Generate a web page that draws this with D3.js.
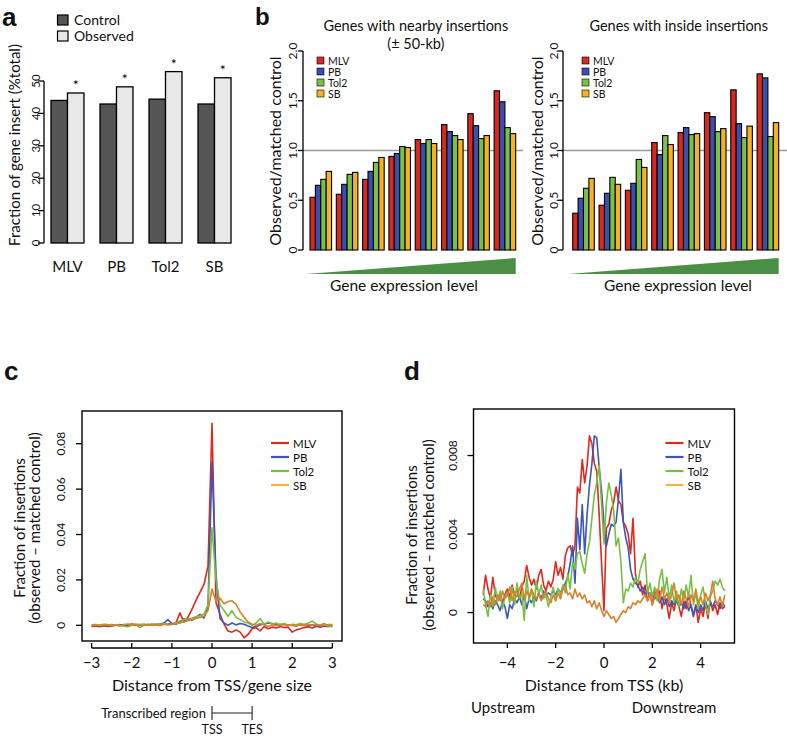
<!DOCTYPE html>
<html><head><meta charset="utf-8">
<script src="https://cdn.jsdelivr.net/npm/d3@7"></script>
<style>body{margin:0;background:#fff}svg{display:block}text{font-family:Lato,"Open Sans",sans-serif;fill:#111}</style>
</head><body>
<script>
// ---------- DATA ----------
// Panel a
const aCategories = ["MLV","PB","Tol2","SB"];
const aControl = [44.0, 42.9, 44.4, 42.9];
const aObserved = [46.3, 48.2, 52.9, 51.0];
const aTicks = [0,10,20,30,40,50];
const aLegend = ["Control","Observed"];
// Panel b
const bSeries = ["MLV","PB","Tol2","SB"];
const bGroups = [1,2,3,4,5,6,7,8];
const nearbyMLV = [0.53,0.56,0.71,0.94,1.11,1.26,1.37,1.60];
const nearbyPB  = [0.65,0.66,0.79,0.97,1.07,1.19,1.25,1.49];
const nearbyTol2= [0.71,0.76,0.88,1.04,1.11,1.15,1.12,1.23];
const nearbySB  = [0.79,0.78,0.93,1.03,1.07,1.11,1.15,1.17];
const insideMLV = [0.37,0.45,0.60,1.08,1.18,1.38,1.61,1.77];
const insidePB  = [0.52,0.57,0.67,0.96,1.23,1.34,1.27,1.73];
const insideTol2= [0.62,0.73,0.91,1.15,1.16,1.19,1.13,1.14];
const insideSB  = [0.72,0.66,0.83,1.06,1.17,1.22,1.245,1.28];
const bTicks = [0,0.5,1,1.5,2];
const bTickLabels = ["0","0.5","1.0","1.5","2.0"];
// Panel c (values x 1e-3)
const cDist = [-3.0,-2.9,-2.8,-2.7,-2.6,-2.5,-2.4,-2.3,-2.2,-2.1,-2.0,-1.9,-1.8,-1.7,-1.6,-1.5,-1.4,-1.3,-1.2,-1.1,-1.0,-0.9,-0.8,-0.7,-0.6,-0.5,-0.4,-0.3,-0.2,-0.1,0,0.1,0.2,0.3,0.4,0.5,0.6,0.7,0.8,0.9,1.0,1.1,1.2,1.3,1.4,1.5,1.6,1.7,1.8,1.9,2.0,2.1,2.2,2.3,2.4,2.5,2.6,2.7,2.8,2.9,3.0];
const cMLV = [-0.5,-0.3,-0.6,-0.2,-0.5,-0.4,0.2,0.0,0.3,0.1, 0.6,0.2,0.4,0.1,0.3,0.2,0.4,0.3,0.5,0.6, 0.8,1.0,5.5,1.5,3.5,7.0,11.0,14.5,18.0,26, 89, 10,5,0.5,-2.5,-3.0,-2.0,-3.0,-5.5,-4.0,-1.5, -1.0,-2.5,-0.5,-1.5,-0.8,-1.2,-0.5,-1.0,-0.8,-3.0, -2.0,-1.5,-1.0,-0.6,-1.2,-0.4,-0.8,-0.3,-0.6,0.3];
const cPB = [-0.3,0.0,-0.4,0.1,-0.2,0.2,0.0,0.3,-0.1,0.2, 0.0,0.3,0.1,0.4,0.2,0.5,0.3,0.6,1.0,2.5, 0.8,0.5,1.5,2.8,2.5,2.2,3.5,4.8,3.2,8.0, 72, 22,3.0,1.0,0.0,1.0,0.2,0.8,0.5,-0.3,-1.0, -0.5,0.3,0.5,1.0,0.8,0.4,0.2,0.5,0.0,0.2, -0.3,0.4,0.0,-0.2,0.2,-0.4,0.0,-0.5,-0.2,-0.6];
const cTol2 = [0.2,0.4,0.1,0.5,0.3,-0.2,0.3,0.0,-0.4,-0.6, 0.0,0.5,0.2,0.6,0.0,0.4,0.2,0.5,0.8,0.5, 0.3,1.0,2.0,2.5,2.8,3.2,3.8,4.2,5.0,9.0, 43, 20,9.0,6.5,4.0,6.5,3.5,2.5,1.5,1.0,0.0, 1.0,3.0,0.5,1.5,0.5,1.0,0.2,0.8,0.0,0.5, 0.2,0.8,0.5,1.0,1.8,0.5,0.2,0.8,-0.4,-0.3];
const cSB = [0.0,0.2,-0.2,0.3,0.1,0.4,0.0,-0.3,0.2,0.6, 0.2,0.3,-1.0,0.0,0.4,0.1,0.3,-0.2,0.5,0.2, 0.6,0.8,1.0,1.5,2.0,2.5,3.0,3.5,4.0,6.5, 16, 10.5,12.0,9.5,10.5,10.8,9.2,6.0,3.5,1.5,0.5, 0.0,0.8,0.3,-0.5,0.2,0.0,0.5,0.3,0.1,0.0, -0.2,0.2,-0.1,0.3,0.0,0.4,-0.2,0.1,0.3,0.4];
const cXTicks = [-3,-2,-1,0,1,2,3];
const cXTickLabels = ["\u22123","\u22122","\u22121","0","1","2","3"];
const cYTicks = [0,20,40,60,80];
const cYTickLabels = ["0","0.02","0.04","0.06","0.08"];
// Panel d (values x 1e-3)
const dDist = [-5.0,-4.9,-4.8,-4.7,-4.6,-4.5,-4.4,-4.3,-4.2,-4.1,-4.0,-3.9,-3.8,-3.7,-3.6,-3.5,-3.4,-3.3,-3.2,-3.1,-3.0,-2.9,-2.8,-2.7,-2.6,-2.5,-2.4,-2.3,-2.2,-2.1,-2.0,-1.9,-1.8,-1.7,-1.6,-1.5,-1.4,-1.3,-1.2,-1.1,-1.0,-0.9,-0.8,-0.7,-0.6,-0.5,-0.4,-0.3,-0.2,-0.1,0,0.1,0.2,0.3,0.4,0.5,0.6,0.7,0.8,0.9,1.0,1.1,1.2,1.3,1.4,1.5,1.6,1.7,1.8,1.9,2.0,2.1,2.2,2.3,2.4,2.5,2.6,2.7,2.8,2.9,3.0,3.1,3.2,3.3,3.4,3.5,3.6,3.7,3.8,3.9,4.0,4.1,4.2,4.3,4.4,4.5,4.6,4.7,4.8,4.9,5.0];
const dMLV = [0.9,1.9,1.2,0.7,1.8,0.9,0.6,1.0,0.5,0.9, 1.2,0.8,1.4,0.9,1.2,0.7,1.3,1.6,2.4,1.8, 1.4,1.7,1.2,1.9,2.2,1.4,1.1,1.6,1.3,1.7, 2.6,1.9,2.3,1.7,2.9,3.3,3.4,2.9,3.4,6.4, 6.1,7.8,6.6,7.5,9.0,8.6,7.6,7.2,5.0,2.5, 0.1, 4.3,4.5,5.2,5.6,6.4,5.7,5.5,4.6,4.4,4.0, 3.0,4.8,2.0,1.3,1.6,0.9,1.4,0.6,1.0,0.4, 1.2,0.7,1.1,0.2,0.8,0.4,-0.3,0.5,0.1,0.7, 0.3,-0.2,0.6,0.2,0.9,0.3,-0.1,0.4,-0.5,0.2, -0.2,0.5,-0.3,0.6,0.1,0.4,-0.1,0.5,0.2,0.3];
const dPB = [0.7,0.6,0.3,0.5,0.2,0.6,0.4,0.1,0.6,0.3, -0.3,0.4,0.2,0.7,0.5,0.8,0.4,0.9,0.2,0.7, 0.5,0.8,0.6,1.0,0.7,1.1,0.8,1.0,0.9,1.1, 0.9,1.2,1.0,1.3,1.5,1.8,2.5,3.4,1.5,4.8, 3.2,5.5,3.0,5.0,6.5,7.6,9.0,8.9,7.4,6.2, 4.5, 3.4,4.0,4.5,4.4,4.6,5.8,7.3,4.6,3.8,3.3, 2.2,1.7,1.5,1.4,1.1,1.3,0.9,1.1,0.8,1.0, 0.7,0.9,0.5,0.8,0.4,0.7,0.3,0.6,0.4,0.7, 0.3,0.5,0.2,0.6,0.1,0.4,-0.2,0.3,0.0,0.4, 0.1,0.6,0.2,0.5,0.3,0.6,0.4,0.2,0.5,0.3];
const dTol2 = [1.2,0.4,-0.2,0.9,0.3,1.3,0.6,1.1,0.2,0.8, 1.0,0.5,1.3,0.4,1.5,0.7,1.0,-0.4,1.9,0.6, 1.2,0.3,1.6,0.9,1.4,0.7,0.9,0.3,0.8,1.3, 0.6,1.2,0.9,1.4,1.0,2.0,1.2,2.6,2.2,3.0, 3.1,2.5,2.0,3.0,3.6,4.8,6.0,6.6,7.5,5.5, 3.5, 5.6,6.6,6.0,5.2,3.4,3.8,2.6,0.5,1.2,1.1, 1.5,1.3,1.8,1.5,2.2,2.6,3.0,1.0,1.5,0.8, 1.3,0.6,1.7,2.2,1.0,1.8,0.7,1.4,0.5,1.1, 0.3,1.2,0.6,1.4,0.8,1.9,0.4,1.0,0.2,0.9, 1.3,0.5,-0.1,0.8,1.1,1.6,1.4,1.7,1.3,1.1];
const dSB = [0.4,0.3,0.6,0.3,0.8,0.4,0.9,0.6,1.1,0.7, 0.9,1.3,0.6,1.0,0.8,1.2,1.5,0.7,1.1,0.8, 1.2,0.9,0.7,1.0,0.6,0.9,1.1,0.7,0.5,0.9, 0.6,1.0,0.7,1.2,1.4,0.9,1.0,0.7,1.2,0.8, 1.0,0.7,0.9,0.5,0.6,0.3,0.6,0.2,0.5,0.1, -0.2, 0.1,-0.1,-0.3,-0.2,-0.5,-0.3,-0.1,0.1,0.0,0.3, 0.2,0.5,0.4,0.6,0.5,0.7,0.9,0.6,1.0,0.4, 0.8,1.2,0.6,1.3,0.7,1.0,0.5,0.9,1.5,0.6, 0.9,0.4,1.1,0.7,0.3,0.9,0.6,1.2,0.5,0.8, 0.4,1.0,0.6,0.9,1.6,0.7,0.4,0.8,0.3,0.9];
const dXTicks = [-4,-2,0,2,4];
const dXTickLabels = ["\u22124","\u22122","0","2","4"];
const dYTicks = [0,4,8];
const dYTickLabels = ["0","0.004","0.008"];

// ---------- STYLE ----------
const barColors = ["#d8281f","#3a4fb0","#79c24a","#f4b224"];
const lineColors = ["#e0281e","#3d55b8","#75c043","#d9812c"];
const legendLineColors = ["#e0281e","#3d55b8","#75c043","#f2b540"];

const svg = d3.select("body").append("svg").attr("width",787).attr("height",738);

function rotText(x,y,t,size,anchor){
  return svg.append("text").attr("transform",`translate(${x},${y}) rotate(-90)`)
    .attr("text-anchor",anchor||"middle").attr("dominant-baseline","central")
    .attr("font-size",size).text(t);
}
function txt(x,y,t,size,anchor,weight,fam){
  const e = svg.append("text").attr("x",x).attr("y",y).attr("font-size",size)
    .attr("text-anchor",anchor||"start").text(t);
  if(weight) e.attr("font-weight",weight);
  if(fam) e.style("font-family",fam);
  return e;
}

// panel letters
txt(2,26,"a",26,"start","bold","'Liberation Sans',Arial,sans-serif");
txt(255,25,"b",24,"start","bold","'Liberation Sans',Arial,sans-serif");
txt(4,380,"c",26,"start","bold","'Liberation Sans',Arial,sans-serif");
txt(404,380,"d",26,"start","bold","'Liberation Sans',Arial,sans-serif");

// ---------- PANEL A ----------
{
  const x = d3.scaleBand().domain(aCategories).range([51,231]).paddingInner(0.327).paddingOuter(0);
  const xi = d3.scaleBand().domain(["c","o"]).range([0,x.bandwidth()]);
  const y = d3.scaleLinear().domain([0,50]).range([243,81]);
  const g = svg.append("g");
  g.append("line").attr("x1",44).attr("x2",44).attr("y1",y(0)).attr("y2",y(50)).attr("stroke","#000").attr("stroke-width",1.3);
  aTicks.forEach(t=>{
    g.append("line").attr("x1",38).attr("x2",44).attr("y1",y(t)).attr("y2",y(t)).attr("stroke","#000").attr("stroke-width",1.3);
    rotText(35,y(t),String(t),11.5);
  });
  aCategories.forEach((c,i)=>{
    g.append("rect").attr("x",x(c)+xi("c")).attr("y",y(aControl[i])).attr("width",xi.bandwidth()).attr("height",y(0)-y(aControl[i]))
      .attr("fill","#555").attr("stroke","#000").attr("stroke-width",1.3);
    g.append("rect").attr("x",x(c)+xi("o")).attr("y",y(aObserved[i])).attr("width",xi.bandwidth()).attr("height",y(0)-y(aObserved[i]))
      .attr("fill","#e8e8e8").attr("stroke","#000").attr("stroke-width",1.3);
    txt(x(c)+xi("o")+xi.bandwidth()/2,y(aObserved[i])-3,"*",14,"middle").style("fill","#000");
    txt(x(c)+x.bandwidth()/2,272,c,15,"middle");
  });
  rotText(13.5,145,"Fraction of gene insert (%total)",15);
  [["#555",15],["#e8e8e8",31]].forEach((d,i)=>{
    g.append("rect").attr("x",57.5).attr("y",d[1]).attr("width",10.5).attr("height",10).attr("fill",d[0]).attr("stroke","#000").attr("stroke-width",1.2);
    txt(74,d[1]+10,aLegend[i],14);
  });
}

// ---------- PANEL B ----------
function panelB(x0,x1,axisX,labelX,titleX,series,title1,title2,lineEnd,wedgeStart,xlabelX,legendX){
  const y = d3.scaleLinear().domain([0,2]).range([250,51]);
  const x = d3.scaleBand().domain(bGroups).range([x0,x1]).paddingInner(0.18).paddingOuter(0);
  const xi = d3.scaleBand().domain(bSeries).range([0,x.bandwidth()]);
  const g = svg.append("g");
  g.append("line").attr("x1",axisX).attr("x2",lineEnd).attr("y1",y(1)).attr("y2",y(1)).attr("stroke","#9a9a9a").attr("stroke-width",1.6);
  bGroups.forEach((grp,gi)=>{
    bSeries.forEach((s,si)=>{
      const v = series[si][gi];
      g.append("rect").attr("x",x(grp)+xi(s)).attr("y",y(v)).attr("width",xi.bandwidth()).attr("height",y(0)-y(v))
        .attr("fill",barColors[si]).attr("stroke","#000").attr("stroke-width",1.1);
    });
  });
  g.append("line").attr("x1",axisX).attr("x2",axisX).attr("y1",y(0)).attr("y2",y(2)).attr("stroke","#000").attr("stroke-width",1.3);
  bTicks.forEach((t,i)=>{
    g.append("line").attr("x1",axisX-5).attr("x2",axisX).attr("y1",y(t)).attr("y2",y(t)).attr("stroke","#000").attr("stroke-width",1.3);
    rotText(labelX,y(t),bTickLabels[i],12);
  });
  rotText(titleX,151,"Observed/matched control",16);
  const wx1 = x.range()[1];
  g.append("path").attr("d",`M${wedgeStart},274 L${wx1},258 L${wx1},274 Z`).attr("fill","#4b8f47");
  txt(xlabelX,291,"Gene expression level",15.5,"middle");
  bSeries.forEach((s,i)=>{
    const yy = 57+i*11;
    g.append("rect").attr("x",legendX).attr("y",yy).attr("width",7).attr("height",7).attr("fill",barColors[i]).attr("stroke","#000").attr("stroke-width",0.6);
    svg.append("text").attr("x",legendX+11).attr("y",yy+3.8).attr("dominant-baseline","central").attr("font-size",10.5).text(s);
  });
  txt((x0+x1)/2+3,31,title1,14.5,"middle");
  if(title2) txt((x0+x1)/2+3,49,title2,14.5,"middle");
}
panelB(310,515.7,303,292.7,274.5,[nearbyMLV,nearbyPB,nearbyTol2,nearbySB],"Genes with nearby insertions","(\u00b1 50-kb)",523,306,404,317);
panelB(572.7,778.7,563,553.5,536,[insideMLV,insidePB,insideTol2,insideSB],"Genes with inside insertions",null,787,568,678,582);

// ---------- LINE PANELS ----------
function linePanel(o){
  const x = d3.scaleLinear().domain(o.xDom).range([o.L,o.R]);
  const y = d3.scaleLinear().domain(o.yDom).range([o.B,o.T]);
  const g = svg.append("g");
  const line = d3.line().x((d,i)=>x(o.xs[i])).y(d=>y(d));
  o.series.forEach((s,i)=>{
    g.append("path").attr("d",line(s)).attr("fill","none").attr("stroke",lineColors[i]).attr("stroke-width",1.6).attr("stroke-linejoin","round");
  });
  g.append("rect").attr("x",o.L).attr("y",o.T).attr("width",o.R-o.L).attr("height",o.B-o.T).attr("fill","none").attr("stroke","#000").attr("stroke-width",1.4);
  o.yTicks.forEach((t,i)=>{
    g.append("line").attr("x1",o.L-6).attr("x2",o.L).attr("y1",y(t)).attr("y2",y(t)).attr("stroke","#000").attr("stroke-width",1.3);
    rotText(o.yLabX,y(t),o.yTickLabels[i],12);
  });
  const ax = o.xAxisY;
  if(ax!==o.B){
    g.append("line").attr("x1",x(o.xTicks[0])).attr("x2",x(o.xTicks[o.xTicks.length-1])).attr("y1",ax).attr("y2",ax).attr("stroke","#000").attr("stroke-width",1.3);
  }
  o.xTicks.forEach((t,i)=>{
    g.append("line").attr("x1",x(t)).attr("x2",x(t)).attr("y1",ax+o.tickDir*5).attr("y2",ax).attr("stroke","#000").attr("stroke-width",1.3);
    txt(x(t),668,o.xTickLabels[i],15,"middle");
  });
  txt((o.L+o.R)/2,691,o.xTitle,16,"middle");
  rotText(o.yt1X,o.ytY,"Fraction of insertions",15);
  rotText(o.yt2X,o.ytY,"(observed \u2013 matched control)",15);
  bSeries.forEach((s,i)=>{
    const yy = o.legY[i];
    g.append("line").attr("x1",o.legX).attr("x2",o.legX+18).attr("y1",yy).attr("y2",yy).attr("stroke",legendLineColors[i]).attr("stroke-width",2.2);
    svg.append("text").attr("x",o.legX+22).attr("y",yy+0.5).attr("dominant-baseline","central").attr("font-size",11.5).text(s);
  });
  return x;
}
const cx = linePanel({xs:cDist,series:[cMLV,cPB,cTol2,cSB],xDom:[-3.24,3.24],yDom:[-6.9,94.4],L:82,R:342,T:411,B:641,
  yTicks:cYTicks,yTickLabels:cYTickLabels,yLabX:60.5,xTicks:cXTicks,xTickLabels:cXTickLabels,xAxisY:648,tickDir:-1,
  xTitle:"Distance from TSS/gene size",yt1X:19,yt2X:34,ytY:528,legX:271,legY:[443,457,471,485]});
{
  const y0 = 713;
  svg.append("line").attr("x1",cx(0)).attr("x2",cx(1)).attr("y1",y0).attr("y2",y0).attr("stroke","#222").attr("stroke-width",1.1);
  [0,1].forEach(v=>svg.append("line").attr("x1",cx(v)).attr("x2",cx(v)).attr("y1",y0-7).attr("y2",y0+7).attr("stroke","#222").attr("stroke-width",1.1));
  svg.append("text").attr("x",cx(0)-6).attr("y",y0).attr("dominant-baseline","central").attr("text-anchor","end").attr("font-size",13).text("Transcribed region");
  txt(cx(0),734,"TSS",12.5,"middle");
  txt(cx(1),734,"TES",12.5,"middle");
}
linePanel({xs:dDist,series:[dMLV,dPB,dTol2,dSB],xDom:[-5.4,5.4],yDom:[-1.55,10.37],L:473.5,R:734.5,T:409,B:643,
  yTicks:dYTicks,yTickLabels:dYTickLabels,yLabX:452,xTicks:dXTicks,xTickLabels:dXTickLabels,xAxisY:643,tickDir:1,
  xTitle:"Distance from TSS (kb)",yt1X:411,yt2X:428,ytY:535,legX:665.5,legY:[443,457,471,485]});
txt(503,713,"Upstream",15,"middle");
txt(674,713,"Downstream",15,"middle");
</script>
</body></html>
